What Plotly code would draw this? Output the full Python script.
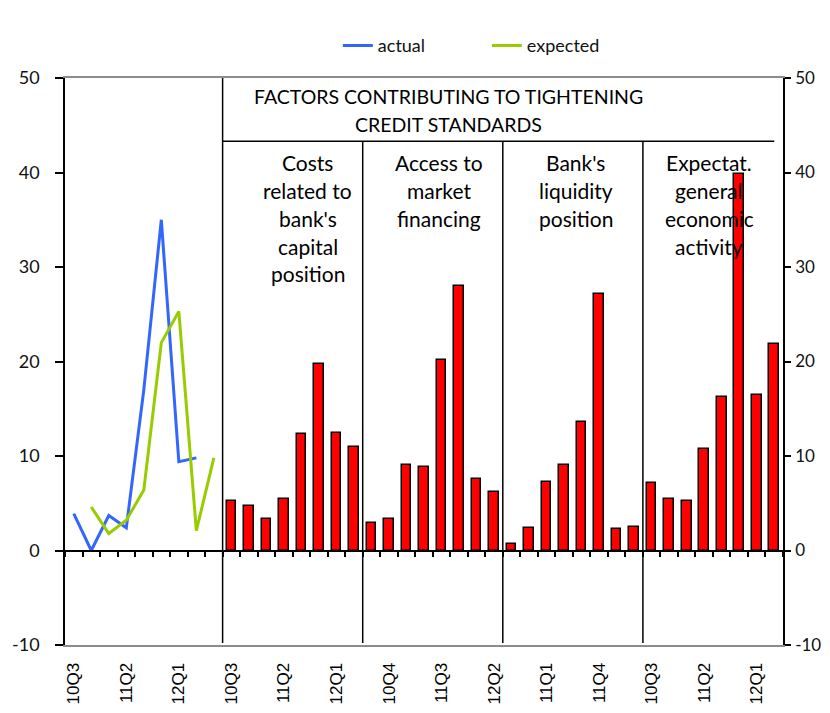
import plotly.graph_objects as go

# ---------------- data ----------------
quarters_line = ["10Q3", "10Q4", "11Q1", "11Q2", "11Q3", "11Q4", "12Q1", "12Q2", "12Q3"]
quarters_bar = ["10Q3", "10Q4", "11Q1", "11Q2", "11Q3", "11Q4", "12Q1", "12Q2"]

actual = [3.9, 0.0, 3.7, 2.4, 17.0, 35.0, 9.4, 9.8, None]
expected = [None, 4.6, 1.8, 3.2, 6.4, 22.0, 25.3, 2.1, 9.8]

capital_costs = [5.2, 4.7, 3.3, 5.5, 12.3, 19.7, 12.4, 10.9]
market_financing = [2.9, 3.3, 9.0, 8.8, 20.2, 28.0, 7.6, 6.2]
liquidity_position = [0.7, 2.4, 7.2, 9.0, 13.6, 27.1, 2.3, 2.5]
economic_activity = [7.1, 5.5, 5.2, 10.7, 16.2, 39.8, 16.5, 21.9]

factor_series = [capital_costs, market_financing, liquidity_position, economic_activity]
factor_labels = [
    ["Costs", "related to", "bank's", "capital", "position"],
    ["Access to", "market", "financing"],
    ["Bank's", "liquidity", "position"],
    ["Expectat.", "general", "economic", "activity"],
]
header_lines = ["FACTORS CONTRIBUTING TO TIGHTENING", "CREDIT STANDARDS"]

y_ticks = [-10, 0, 10, 20, 30, 40, 50]
y_tick_labels = ["-10", "0", "10", "20", "30", "40", "50"]

# ---------------- layout constants ----------------
# the page has an 8px body margin; the figure is sized to fit inside it
W, H = 814, 697
ML, MR, MT, MB = 57, 39, 70, 60
BLUE = "#3366ff"
GREEN = "#99cc00"
RED = "#ff0000"
TXT = "Lato"

categories = quarters_line + quarters_bar * len(factor_series)
n_cat = len(categories)
x_idx = list(range(n_cat))
n_line = len(quarters_line)
n_bar = len(quarters_bar)

fig = go.Figure()

# bars (factor panels)
for k, vals in enumerate(factor_series):
    start = n_line + k * n_bar
    fig.add_trace(go.Bar(x=x_idx[start:start + n_bar], y=vals, width=0.55,
                         marker=dict(color=RED, line=dict(color="black", width=1.5)),
                         showlegend=False, xaxis="x", yaxis="y"))

# lines (left panel)
fig.add_trace(go.Scatter(x=x_idx[:n_line], y=actual, mode="lines", name="actual",
                         line=dict(color=BLUE, width=3), xaxis="x2", yaxis="y2"))
fig.add_trace(go.Scatter(x=x_idx[:n_line], y=expected, mode="lines", name="expected",
                         line=dict(color=GREEN, width=3), xaxis="x2", yaxis="y2"))

xr = [-0.5, n_cat - 0.5]
yr = [y_ticks[0], y_ticks[-1]]
tick_font = dict(family=TXT, size=18, color="#111")

fig.update_layout(
    width=W, height=H,
    margin=dict(l=ML, r=MR, t=MT, b=MB, pad=0, autoexpand=False),
    paper_bgcolor="white",
    plot_bgcolor="white",
    bargap=0,
    xaxis=dict(range=xr, tickmode="array", tickvals=x_idx[::3],
               ticktext=[categories[i] for i in x_idx[::3]],
               tickangle=-90, ticks="", showgrid=False, zeroline=False,
               showline=True, linecolor="#8c8c8c", linewidth=2, mirror=True,
               ticklabelstandoff=9, automargin=False,
               tickfont=dict(family="Liberation Sans", size=17, color="black")),
    xaxis2=dict(range=xr, overlaying="x", anchor="free",
                position=(0 - yr[0]) / (yr[1] - yr[0]),
                tickmode="array", tickvals=[i - 0.5 for i in range(n_cat + 1)],
                ticks="outside", ticklen=6, tickwidth=1.5, tickcolor="black",
                showticklabels=False, showgrid=False, zeroline=False,
                showline=True, linecolor="black", linewidth=1.5, automargin=False),
    yaxis=dict(range=yr, tickmode="array", tickvals=y_ticks, ticktext=y_tick_labels,
               ticks="outside", ticklen=8, tickwidth=1.5, tickcolor="black",
               showline=True, linecolor="black", linewidth=1.5,
               showgrid=False, zeroline=False, ticklabelstandoff=12, automargin=False,
               tickfont=tick_font),
    yaxis2=dict(range=yr, overlaying="y", side="right", anchor="x2",
                tickmode="array", tickvals=y_ticks, ticktext=y_tick_labels,
                ticks="outside", ticklen=6, tickwidth=1.5, tickcolor="black",
                showline=True, linecolor="black", linewidth=1.5,
                showgrid=False, zeroline=False, ticklabelstandoff=1, automargin=False,
                tickfont=dict(family=TXT, size=17, color="#111")),
    legend=dict(orientation="h", x=0.38, y=1.057, xanchor="left", yanchor="middle",
                bgcolor="rgba(0,0,0,0)", font=dict(family=TXT, size=18, color="#111"),
                entrywidth=104, entrywidthmode="pixels", traceorder="normal"),
    showlegend=True,
)

# panel separators and header line
sep_bottom = -9.8
header_y = 43.3
boundaries = [n_line + k * n_bar - 0.5 for k in range(len(factor_series))]
for j, b in enumerate(boundaries):
    fig.add_shape(type="line", xref="x", yref="y", x0=b, x1=b, y0=sep_bottom,
                  y1=yr[1] if j == 0 else header_y, line=dict(color="black", width=1.5))
fig.add_shape(type="line", xref="x", yref="y", x0=boundaries[0], x1=n_cat - 1.0,
              y0=header_y, y1=header_y, line=dict(color="black", width=1.5))

# header text
header_x = 21.4
line_step = 2.96
for i, t in enumerate(header_lines):
    fig.add_annotation(x=header_x, y=48.0 - i * line_step, xref="x", yref="y", text=t,
                       showarrow=False, font=dict(family=TXT, size=19.5, color="black"))

# factor labels
label_offsets = [4.85, 4.37, 4.17, 3.8]
for k, lines in enumerate(factor_labels):
    cx = boundaries[k] + label_offsets[k]
    for i, t in enumerate(lines):
        fig.add_annotation(x=cx, y=41.1 - i * line_step, xref="x", yref="y", text=t,
                           showarrow=False, font=dict(family=TXT, size=21, color="black"))

fig.write_html("out.html")
